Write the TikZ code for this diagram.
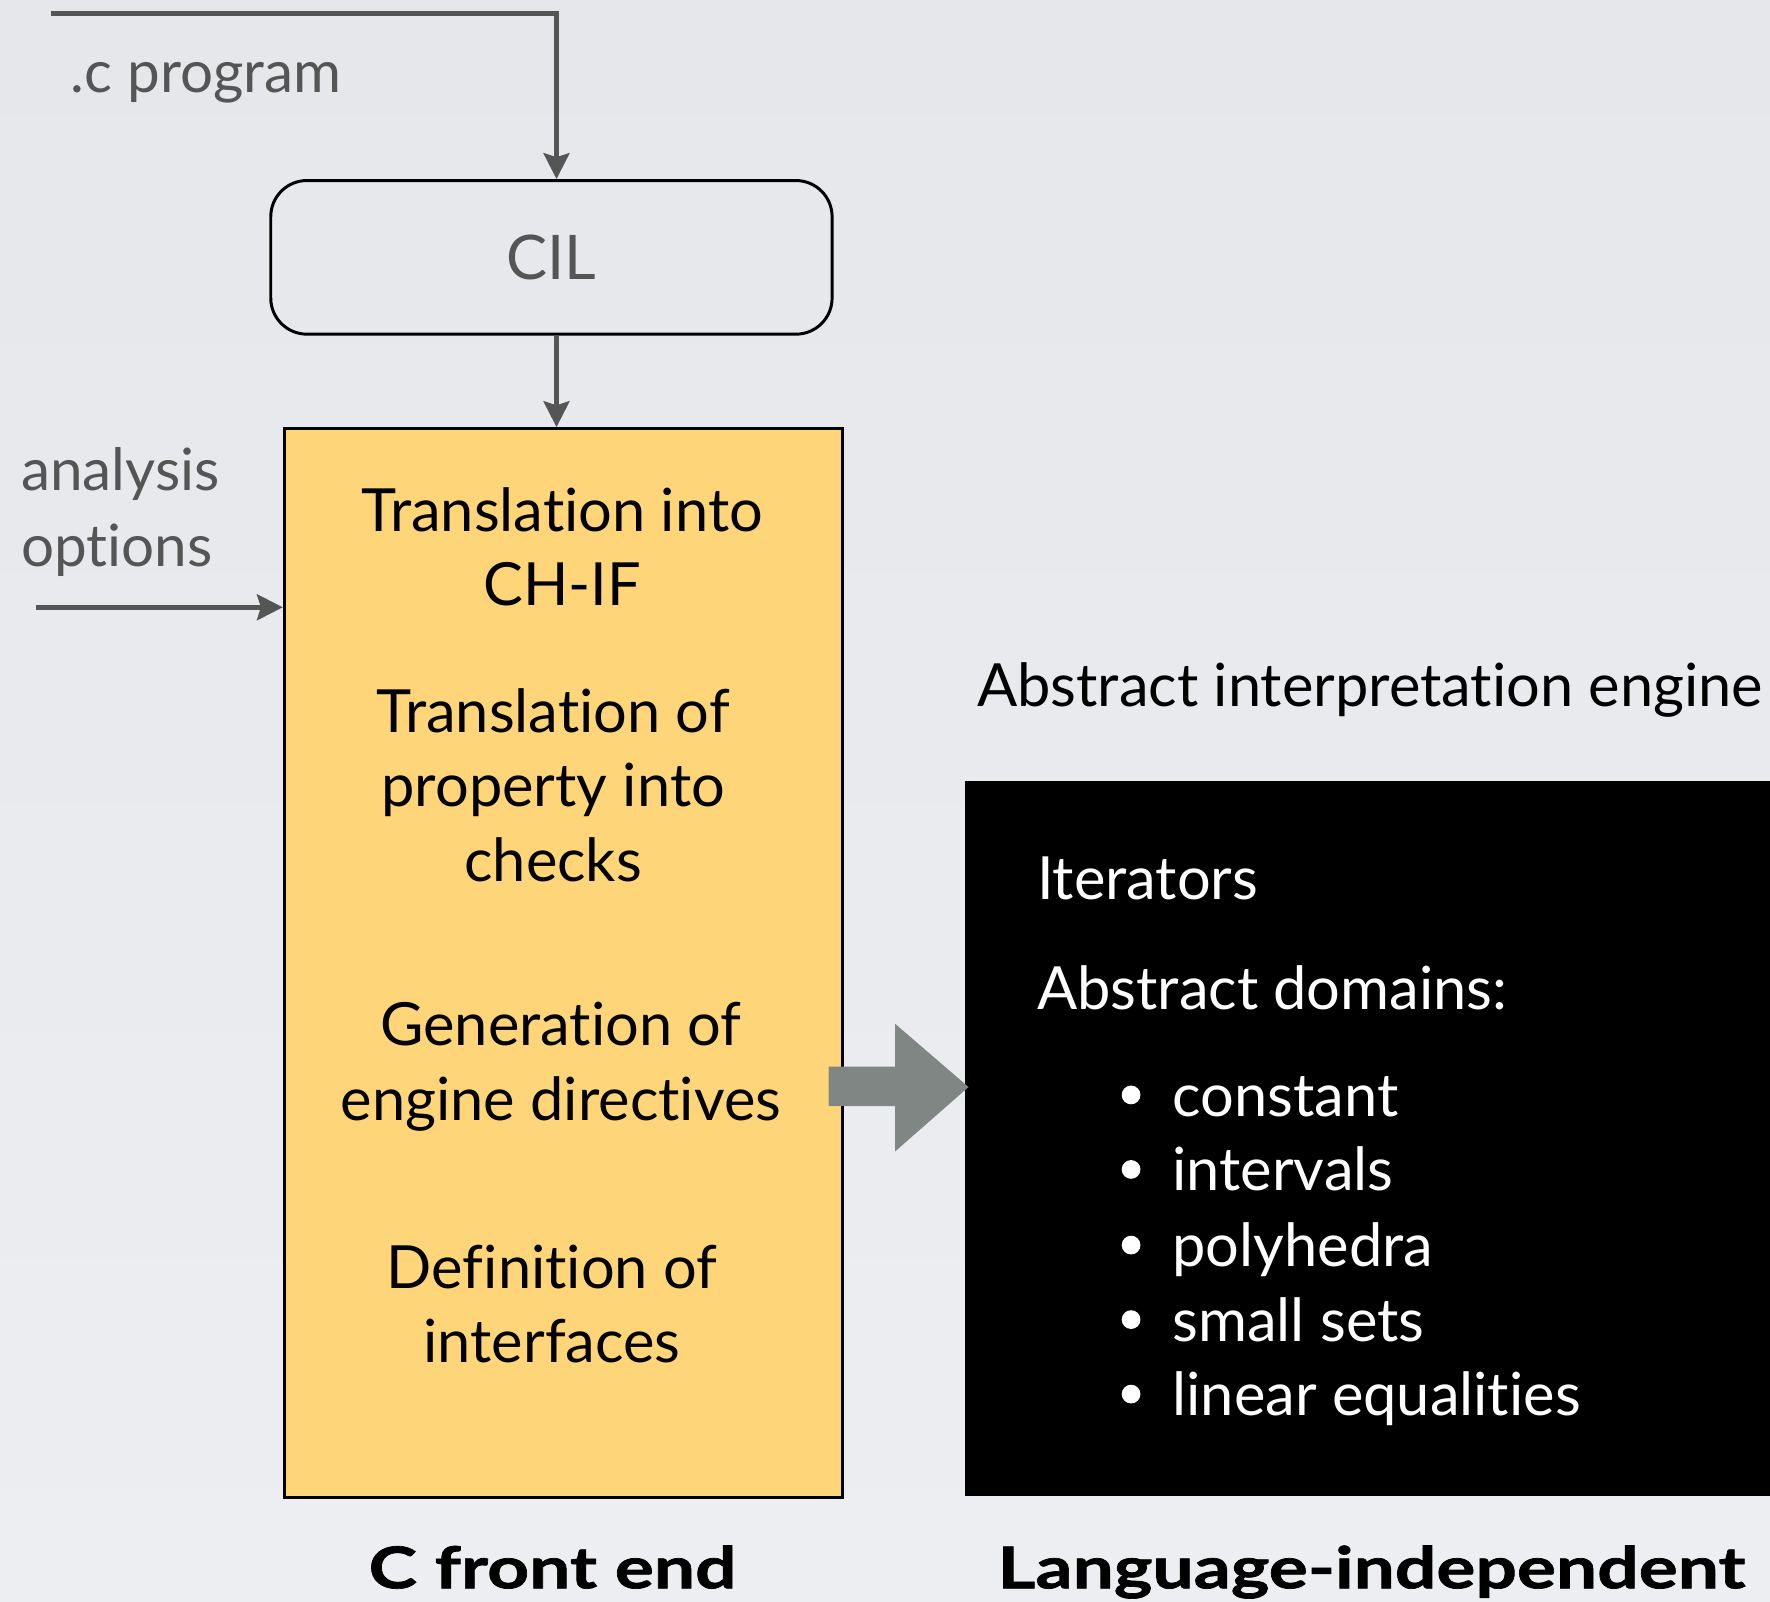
\documentclass[tikz,border=0pt]{standalone}
\usepackage{fontspec}
\setmainfont{Lato}[Ligatures={NoCommon,NoRequired,NoContextual}]
\newfontfamily\headfont[FakeStretch=1.27,FakeBold=1.2,Ligatures={NoCommon,NoRequired,NoContextual}]{Lato}
\usetikzlibrary{arrows.meta,calc}

% keeps "t" and "i" as separate glyphs
\newcommand\nolig{\kern0pt }

\definecolor{bgtop}{RGB}{229,231,235}
\definecolor{bgbot}{RGB}{237,238,241}
\definecolor{ink}{RGB}{85,85,85}
\definecolor{frontfill}{RGB}{255,213,122}
\definecolor{bigarrow}{RGB}{128,134,131}

\begin{document}
\begin{tikzpicture}[x=0.01cm,y=-0.01cm,
  flow/.style={draw=ink, line width=1.2pt, -{Stealth[length=6.5pt,width=6.5pt,inset=1pt]}},
  txt/.style={font=\fontsize{15}{18.8}\selectfont, inner sep=0pt},
  sidetext/.style={font=\fontsize{14.7}{19}\selectfont, inner sep=0pt, text=ink},
  stagetext/.style={txt, align=center, anchor=north},
  enginetext/.style={txt, text=white, anchor=base west},
  headtext/.style={font=\headfont\bfseries\fontsize{14.5}{18}\selectfont, inner sep=0pt, anchor=base},
  cilbox/.style={draw=black, line width=0.75pt, rounded corners=0.32cm,
    minimum width=4.97cm, minimum height=1.36cm, inner sep=0pt,
    text=ink, font=\fontsize{15.5}{18}\selectfont},
  stagebox/.style={draw=black, line width=0.75pt, fill=frontfill,
    minimum width=4.94cm, minimum height=9.46cm, inner sep=0pt},
  enginebox/.style={fill=black, minimum width=7.3cm, minimum height=6.33cm, inner sep=0pt},
]
\useasboundingbox (0,0) rectangle (1568,1419);
\shade[top color=bgtop, bottom color=bgbot] (0,0) rectangle (1568,1419);

% C front end column
\node[cilbox] (cil) at (488.5,228) {CIL};
\node[stagebox] (fe) at (499,853) {};

\coordinate (spine) at (493,0);
\coordinate (progin) at (45,12);
\coordinate (optin) at (32,538);

\draw[flow] (progin) -| (cil.north -| spine);
\draw[flow] (cil.south -| spine) -- (fe.north -| spine);
\draw[flow] (optin) -- (fe.west |- optin);

\node[sidetext, anchor=base west] (prog) at (62,82) {.c program};
\node[sidetext, align=left, anchor=north west] (opts) at (18,396) {analysis\\opt\nolig ions};

\node[stagetext] (s1) at (498,431) {Translat\nolig ion into\\CH-IF};
\node[stagetext] (s2) at (490,609) {Translat\nolig ion of\\property into\\checks};
\node[stagetext] (s3) at (497,887) {Generat\nolig ion of\\engine direct\nolig ives};
\node[stagetext] (s4) at (489,1102) {Definit\nolig ion of\\interfaces};

% analysis engine
\node[txt, anchor=base west] (engname) at (865,626) {Abstract interpretat\nolig ion engine};
\node[enginebox] (engine) at (1220,1008.5) {};

% block arrow from the front end into the engine
\fill[bigarrow] (734,945) -- (793,945) -- (793,907) -- (858,963)
  -- (793,1020) -- (793,980) -- (734,980) -- cycle;

\node[enginetext] (iter) at (918,797) {Iterators};
\node[enginetext] (doms) at (918,894) {Abstract domains:};
\foreach \y/\nm/\t in {989/dconst/constant, 1055/dint/intervals,
    1122/dpoly/polyhedra, 1188/dsmall/small sets, 1254/dlin/linear equalit\nolig ies}{
  \fill[white] (1002,\y-19) circle[radius=0.083cm];
  \node[enginetext] (\nm) at (1038,\y) {\t};
}

% column titles
\node[headtext] (fetitle) at (489.5,1407) {C front end};
\node[headtext] (engtitle) at (1215,1407) {Language-independent};
\end{tikzpicture}
\end{document}
